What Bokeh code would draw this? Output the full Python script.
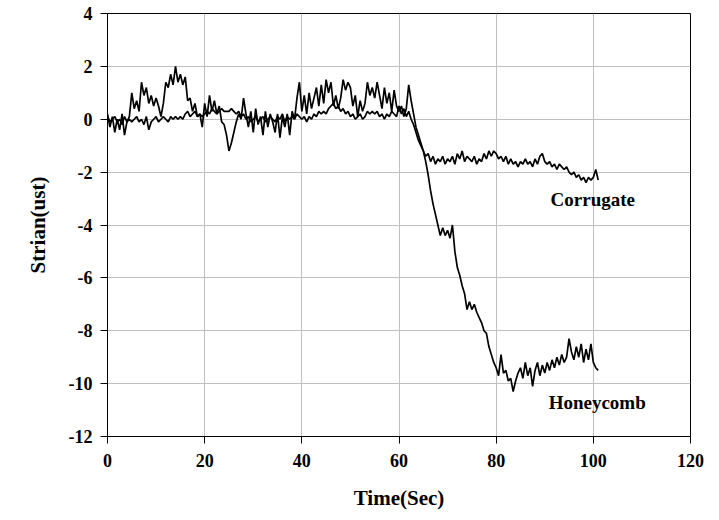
import numpy as np
from bokeh.plotting import figure
from bokeh.models import Label, FixedTicker, Range1d, CustomJSTickFormatter
from bokeh.embed import file_html
from bokeh.resources import INLINE

# time axis: 0 .. 101 s at 0.5 s steps
time_start = 0.0
time_step = 0.5

honeycomb = [
    0.2, -0.3, 0.1, -0.5, 0.0, -0.4, 0.2, -0.6, -0.1, 0.1,
    1.0, 0.4, 0.7, 0.3, 1.4, 0.9, 1.2, 0.6, 0.9, 0.5,
    0.8, 0.5, 0.1, 0.6, 1.4, 1.2, 1.7, 1.3, 2.0, 1.4,
    1.7, 1.3, 1.6, 0.7, 0.8, 0.3, 0.6, 0.1, 0.2, -0.3,
    0.6, 0.1, 0.9, 0.3, 0.7, 0.2, 0.5, -0.1, -0.2, -0.6,
    -1.2, -0.9, -0.5, -0.1, 0.2, 0.0, 0.8, 0.2, -0.3, 0.3,
    -0.5, 0.4, -0.2, 0.1, -0.6, 0.3, -0.3, 0.2, -0.1, -0.5,
    0.2, -0.7, 0.1, -0.3, 0.2, -0.6, 0.3, 0.0, 0.8, 1.4,
    0.3, 0.9, 0.2, 1.0, 0.4, 0.8, 1.2, 0.5, 1.3, 0.6,
    1.5, 1.0, 1.4, 0.5, 0.9, 0.4, 0.8, 1.5, 1.1, 1.4,
    1.2, 0.5, 0.9, 0.1, 0.7, 0.3, 0.6, 1.4, 0.9, 1.2,
    0.8, 1.4, 0.9, 0.4, 1.2, 0.6, 1.0, 0.3, 1.1, 0.5,
    0.3, 0.5, 0.1, 0.4, 1.3, 0.7, 0.2, -0.3, -0.6, -0.9,
    -1.2, -1.6, -2.1, -2.7, -3.2, -3.6, -4.0, -4.4, -4.1, -4.4,
    -4.2, -4.5, -4.0, -5.0, -5.6, -5.9, -6.3, -6.6, -7.2, -6.9,
    -7.2, -7.0, -7.3, -7.5, -7.7, -8.0, -8.1, -8.6, -8.9, -9.2,
    -9.4, -9.7, -8.9, -9.6, -9.5, -9.9, -9.8, -10.3, -9.9, -9.6,
    -9.4, -9.8, -9.2, -9.7, -9.4, -10.1, -9.5, -9.2, -9.7, -9.3,
    -9.6, -9.2, -9.5, -9.1, -9.4, -9.0, -9.3, -8.9, -9.2, -9.0,
    -8.3, -8.8, -9.1, -8.6, -9.0, -8.5, -9.2, -8.7, -9.1, -8.5,
    -9.2, -9.4, -9.5,
]

corrugate = [
    0.1, -0.1, 0.0, 0.1, -0.1, 0.0, -0.2, 0.1, -0.1, 0.0,
    -0.1, 0.0, 0.1, -0.1, 0.0, -0.2, 0.1, -0.4, -0.1, 0.0,
    0.1, -0.1, 0.0, 0.1, 0.0, -0.1, 0.1, 0.0, 0.1, 0.0,
    0.1, 0.0, 0.2, 0.3, 0.1, 0.2, 0.3, 0.1, 0.2, 0.1,
    0.2, 0.3, 0.2, 0.4, 0.3, 0.2, 0.3, 0.4, 0.3, 0.3,
    0.3, 0.4, 0.3, 0.2, 0.3, 0.1, 0.2, 0.0, 0.1, -0.1,
    0.0, 0.1, -0.1, 0.0, 0.1, -0.1, 0.0, 0.1, 0.0, -0.1,
    0.1, 0.0, 0.2, -0.1, 0.1, 0.0, 0.1, 0.0, 0.2, 0.1,
    0.0, 0.1, -0.1, 0.1, 0.0, 0.2, 0.1, 0.3, 0.2, 0.3,
    0.2, 0.4, 0.5, 0.6, 0.4, 0.5, 0.3, 0.4, 0.2, 0.3,
    0.1, 0.2, 0.0, 0.1, 0.2, 0.0, 0.1, 0.3, 0.2, 0.3,
    0.2, 0.3, 0.1, 0.2, 0.0, 0.2, 0.1, 0.3, 0.2, 0.1,
    0.5, 0.2, 0.4, 0.1, 0.3, 0.0, -0.2, -0.5, -0.8, -1.0,
    -1.2, -1.4, -1.3, -1.6, -1.4, -1.7, -1.5, -1.6, -1.4, -1.7,
    -1.5, -1.6, -1.4, -1.7, -1.3, -1.5, -1.2, -1.6, -1.4, -1.5,
    -1.6, -1.4, -1.7, -1.5, -1.6, -1.3, -1.5, -1.2, -1.4, -1.2,
    -1.3, -1.5, -1.4, -1.6, -1.4, -1.7, -1.5, -1.7, -1.6, -1.8,
    -1.6, -1.7, -1.5, -1.7, -1.6, -1.8, -1.5, -1.7, -1.4, -1.3,
    -1.6, -1.7, -1.6, -1.8, -1.7, -1.9, -1.7, -1.8, -1.9, -1.8,
    -2.0, -2.1, -2.0, -2.2, -2.1, -2.3, -2.2, -2.4, -2.2, -2.3,
    -2.2, -1.9, -2.3,
]

x_ticks = [0, 20, 40, 60, 80, 100, 120]
y_ticks = [-12, -10, -8, -6, -4, -2, 0, 2, 4]
series_names = ["Corrugate", "Honeycomb"]

t_h = time_start + time_step * np.arange(len(honeycomb))
t_c = time_start + time_step * np.arange(len(corrugate))

FONT = "Liberation Serif"

p = figure(width=719, height=520, output_backend="svg", toolbar_location=None,
           x_range=Range1d(0, 120), y_range=Range1d(-12, 4),
           min_border_left=107, min_border_right=29, min_border_top=13,
           min_border_bottom=84)

p.line(t_c, corrugate, line_color="black", line_width=1.7)
p.line(t_h, honeycomb, line_color="black", line_width=1.7)

p.xaxis.ticker = FixedTicker(ticks=x_ticks)
p.yaxis.ticker = FixedTicker(ticks=y_ticks)
for ax in p.axis:
    ax.formatter = CustomJSTickFormatter(code="return String(tick);")
    ax.major_label_text_font = FONT
    ax.major_label_text_font_style = "bold"
    ax.major_label_text_font_size = "18px"
    ax.major_label_text_color = "black"
    ax.axis_label_text_font = FONT
    ax.axis_label_text_font_style = "bold"
    ax.axis_label_text_font_size = "21px"
    ax.axis_label_text_color = "black"
    ax.axis_line_color = "black"
    ax.major_tick_line_color = "black"
    ax.major_tick_out = 7
    ax.major_tick_in = 0
    ax.minor_tick_line_color = None

p.xaxis.axis_label = "Time(Sec)"
p.yaxis.axis_label = "Strian(ust)"
p.xaxis.major_label_standoff = 10
p.yaxis.major_label_standoff = 8
p.xaxis.axis_label_standoff = 16
p.yaxis.axis_label_standoff = 16

p.grid.grid_line_color = "#c0c0c0"
p.grid.grid_line_width = 1
p.outline_line_color = "black"
p.outline_line_width = 1
p.background_fill_color = "white"
p.border_fill_color = "white"

p.add_layout(Label(x=91.2, y=-3.03, text=series_names[0], text_font=FONT,
                   text_font_style="bold", text_font_size="19px",
                   text_baseline="middle", text_align="left", text_color="black"))
p.add_layout(Label(x=90.8, y=-10.71, text=series_names[1], text_font=FONT,
                   text_font_style="bold", text_font_size="19px",
                   text_baseline="middle", text_align="left", text_color="black"))

open("out.html", "w").write(file_html(p, INLINE))
